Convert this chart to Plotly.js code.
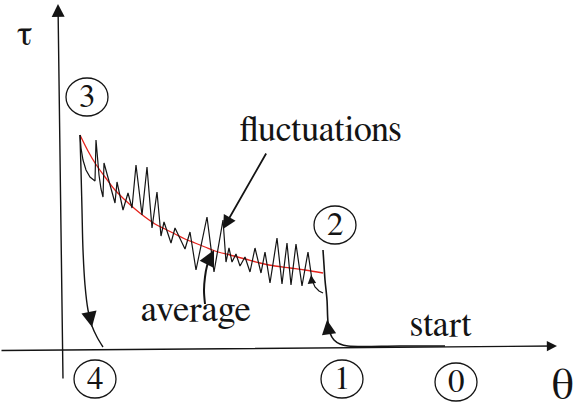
<!DOCTYPE html>
<html>
<head>
<meta charset="utf-8">
<script src="https://cdn.plot.ly/plotly-3.0.1.min.js"></script>
<style>
  html, body { margin: 0; padding: 0; background: #fff; }
  #chart { width: 576px; height: 410px; }
</style>
</head>
<body>
<div id="chart"></div>
<script>
// Stick-slip cycle in the (θ, τ) plane: loading 0 → 1 → 2, fluctuating
// decay 2 → 3 around its running average, then unloading 3 → 4.

// Fluctuating shear stress (sawtooth), θ increasing from state 3 to state 2
const flucTheta = [18, 19, 21, 24, 28, 33, 34, 35, 37, 39, 41, 42, 53, 55, 61, 66, 70, 74, 80, 85,
                   90, 95, 99, 102, 109, 113, 123, 128, 134, 145, 152, 161, 164, 167, 170, 174, 178, 183, 188, 193,
                   199, 203, 208, 215, 220, 225, 229, 234, 240, 246, 248, 250, 253, 257, 261];
const flucTau   = [215, 202, 190, 180, 173, 169, 210, 195, 175, 161, 153, 187, 147, 168, 140, 157, 142, 185, 135, 183,
                   122, 158, 114, 128, 107, 122, 101, 118, 80, 133, 78, 130, 88, 102, 88, 96, 84, 93, 78, 102,
                   77, 98, 67, 112, 66, 107, 65, 106, 64, 98, 82, 70, 63, 59, 57];

// Running average of the fluctuating stress
const avgTheta = [18, 26, 33, 43, 53, 63, 73, 83, 93, 103, 113, 123, 133, 143, 153, 168, 183, 198, 213, 228, 243, 261];
const avgTau   = [215, 199, 187, 173, 160, 150, 141, 133, 126, 121, 116, 111, 107, 103, 99, 95, 91, 87, 84, 82, 80, 77];

// Unloading branch 3 → 4
const dropTheta = [18, 19, 20, 21, 23, 26, 30, 35, 41];
const dropTau   = [215, 180, 140, 100, 65, 40, 24, 13, 3];

// Loading branch 0 → 1 → 2
const loadTheta = [383, 338, 286, 278, 272, 268, 266, 265, 263, 262, 261];
const loadTau   = [4, 4, 4, 6, 10, 17, 28, 50, 70, 85, 100];

// Curved leader from the "average" label to the average curve
const leaderTheta = [143, 142, 143, 145, 148];
const leaderTau   = [46, 60, 73, 84, 92];

// State labels and their centres
const stateLabels = ['0', '1', '2', '3', '4'];
const stateTheta  = [394, 280, 273, 25, 33];
const stateTau    = [-32, -29, 125, 253, -29];

const serif = 'FreeSerif, "DejaVu Serif", serif';
const ink = '#141414';

const traces = [
  { x: avgTheta, y: avgTau, mode: 'lines', line: { color: '#e5221c', width: 1.3, shape: 'spline' } },
  { x: flucTheta, y: flucTau, mode: 'lines', line: { color: ink, width: 1.2 } },
  { x: dropTheta, y: dropTau, mode: 'lines', line: { color: ink, width: 1.4, shape: 'spline' } },
  { x: loadTheta, y: loadTau, mode: 'lines', line: { color: ink, width: 1.6, shape: 'spline' } },
  { x: leaderTheta, y: leaderTau, mode: 'lines', line: { color: ink, width: 2, shape: 'spline' } }
];

function arrow(x, y, ax, ay, size, width) {
  return { x: x, y: y, ax: ax, ay: ay, xref: 'x', yref: 'y', axref: 'x', ayref: 'y',
           text: '', showarrow: true, arrowhead: 2, arrowsize: size, arrowwidth: width,
           arrowcolor: ink, standoff: 0, startstandoff: 0 };
}
function label(text, x, y, size) {
  return { x: x, y: y, xref: 'x', yref: 'y', text: text, showarrow: false,
           xanchor: 'center', yanchor: 'middle', font: { family: serif, size: size, color: ink } };
}

const annotations = [
  // coordinate axes
  arrow(495, 4, -62, -0.5, 1.45, 1.4),
  arrow(-4, 346, 1, -30, 1.85, 1.4),
  // direction marks on the cycle
  arrow(265, 30, 267, 16, 2.6, 1.1),
  arrow(30, 23, 27, 38, 2.8, 1.1),
  arrow(249, 75, 250, 66, 1.7, 1),
  // leaders
  arrow(161, 121, 205, 198, 1.5, 1.8),
  arrow(152, 100, 147, 90, 2.0, 1.6),
  // texts
  label('τ', -38, 316, 36),
  label('θ', 500, -36, 44),
  label('fluctuations', 259, 220, 36),
  label('average', 134, 40, 37),
  label('start', 379, 25, 36)
];

const shapes = [];
const rx = 21, ry = 19;
stateLabels.forEach(function (s, i) {
  annotations.push(label(s, stateTheta[i], stateTau[i], 33));
  shapes.push({ type: 'circle', xref: 'x', yref: 'y',
                x0: stateTheta[i] - rx, x1: stateTheta[i] + rx,
                y0: stateTau[i] - ry, y1: stateTau[i] + ry,
                line: { color: ink, width: 1.3 } });
});

const layout = {
  width: 576, height: 410,
  margin: { l: 0, r: 0, t: 0, b: 0 },
  paper_bgcolor: '#ffffff', plot_bgcolor: '#ffffff',
  showlegend: false,
  xaxis: { range: [-62, 514], visible: false, fixedrange: true },
  yaxis: { range: [-60, 350], visible: false, fixedrange: true },
  annotations: annotations,
  shapes: shapes
};

Plotly.newPlot('chart', traces, layout, { staticPlot: true, displayModeBar: false });
</script>
</body>
</html>
